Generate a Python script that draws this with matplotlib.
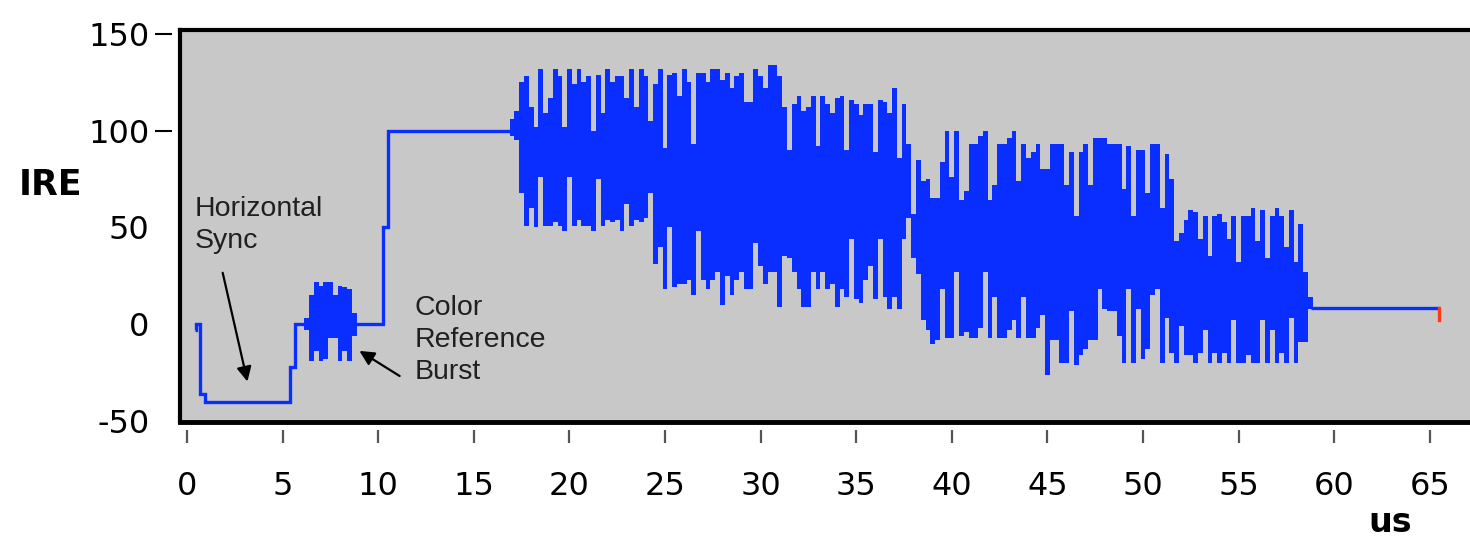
import numpy as np
import matplotlib.pyplot as plt

plt.rcParams['axes.unicode_minus'] = False

# NTSC line waveform, time in us, level in IRE

# blanking / sync / back porch before active video (step levels between edges)
front_edges = [0.40, 0.47, 0.70, 0.95, 5.40, 5.65, 10.25, 10.50, 17.00]
front_levels = [-3, 0, -36, -40, -22, 0, 50, 100]

# color burst envelope, one value per 0.25 us starting at 6.25 us
burst_start = 6.25
burst_top = [3, 15, 22, 20, 22, 22, 15, 20, 19, 18, 6]
burst_bottom = [-3, -19, -14, -19, -18, -7, -7, -19, -14, -19, -6]

# active video (color bars) envelope, one value per 0.25 us starting at 17.0 us
video_start = 17.0
video_top = [
    106, 110, 125, 128, 112, 102, 132, 109, 117, 132, 128, 102,
    132, 124, 132, 125, 128, 100, 129, 109, 132, 125, 128, 128,
    117, 132, 112, 132, 128, 105, 124, 132, 91, 129, 130, 118,
    132, 125, 93, 130, 130, 125, 132, 132, 126, 130, 122, 128,
    130, 115, 115, 132, 128, 122, 134, 134, 128, 112, 90, 114,
    118, 110, 112, 118, 92, 118, 114, 109, 117, 118, 90, 116,
    114, 108, 114, 114, 89, 116, 115, 109, 122, 86, 114, 93,
    57, 85, 74, 75, 65, 65, 84, 100, 76, 100, 64, 69,
    93, 93, 97, 100, 64, 72, 93, 93, 96, 100, 74, 93,
    86, 89, 93, 80, 80, 93, 93, 93, 72, 89, 56, 89,
    93, 72, 96, 96, 96, 93, 93, 93, 70, 92, 56, 90,
    90, 68, 93, 93, 60, 88, 75, 43, 47, 54, 59, 58,
    44, 56, 35, 56, 57, 53, 44, 56, 32, 56, 56, 60,
    43, 59, 34, 56, 60, 56, 40, 59, 32, 52, 27, 14,
]
video_bottom = [
    97, 95, 68, 51, 60, 50, 76, 51, 51, 53, 51, 48,
    76, 51, 54, 51, 51, 48, 75, 51, 54, 53, 54, 48,
    62, 51, 54, 53, 55, 68, 31, 40, 18, 50, 19, 21,
    21, 23, 15, 48, 23, 18, 23, 27, 10, 25, 15, 23,
    27, 18, 18, 42, 30, 21, 27, 27, 9, 35, 34, 27,
    18, 9, 9, 27, 18, 27, 18, 21, 9, 18, 14, 44,
    13, 11, 23, 30, 13, 44, 14, 8, 14, 8, 44, 55,
    34, 26, 2, -3, -10, -8, 18, -7, -7, 27, -6, -4,
    -7, -7, -2, 27, -7, 14, -7, -7, -3, 2, -7, 14,
    -7, -7, -2, 5, -26, -8, -8, -20, -20, 7, -21, -16,
    -13, -8, -8, 18, 8, 7, 7, -6, -20, 18, -20, 8,
    -18, -13, 15, 18, -20, 3, -15, -20, -1, -16, -16, -20,
    -15, -3, -20, -15, -20, -15, -20, 2, -20, -20, -16, -20,
    -20, 2, -20, -3, -20, -15, -20, 3, -20, -9, -9, 8,
]

# front porch after active video, end of line
tail_edges = [58.80, 65.50]
tail_levels = [8.5]
end_mark_t = 65.5
end_mark_v = [8.5, 2]

step = 0.25
blue = '#0a2eff'

fig = plt.figure(figsize=(14.7, 5.38), dpi=100)
ax = fig.add_axes([180 / 1470, 1 - 422 / 538, 1 - 180 / 1470, 392 / 538])
ax.set_facecolor('#c8c8c8')

ax.stairs(front_levels, front_edges, baseline=None, color=blue, lw=2.4)
ax.stairs(tail_levels, tail_edges, baseline=None, color=blue, lw=2.4)
ax.plot([end_mark_t, end_mark_t], end_mark_v, color='#ff3a10', lw=2.4)

burst_edges = burst_start - step / 2 + step * np.arange(len(burst_top) + 1)
ax.stairs(burst_top, burst_edges, baseline=burst_bottom, fill=True, color=blue, lw=0)

video_edges = video_start - step / 2 + step * np.arange(len(video_top) + 1)
ax.stairs(video_top, video_edges, baseline=video_bottom, fill=True, color=blue, lw=0)

ax.set_xlim(-0.37, 67.1)
ax.set_ylim(-50.5, 152)
ax.set_xticks(np.arange(0, 66, 5))
ax.set_yticks([-50, 0, 50, 100, 150])

for side in ['top', 'right']:
    ax.spines[side].set_visible(False)
for side in ['bottom', 'left']:
    ax.spines[side].set_position(('outward', 6))
    ax.spines[side].set_color('none')

# thick frame drawn separately so the ticks sit apart from it
ax.plot([0, 1], [1, 1], transform=ax.transAxes, color='k', lw=3, clip_on=False)
ax.plot([0, 1], [0, 0], transform=ax.transAxes, color='k', lw=3.5, clip_on=False)
ax.plot([0, 0], [0, 1], transform=ax.transAxes, color='k', lw=3, clip_on=False)

ax.tick_params(axis='x', length=9, width=1.6, color='#555555', pad=20, labelsize=23)
ax.tick_params(axis='y', length=12, width=1.5, color='k', pad=4, labelsize=23)
for tk in ax.yaxis.get_major_ticks()[:3]:
    tk.tick1line.set_visible(False)

fig.text(50 / 1470, 1 - 185 / 538, 'IRE', ha='center', va='center',
         fontsize=25, fontweight='bold')
fig.text(1390 / 1470, 1 - 522 / 538, 'us', ha='center', va='center',
         fontsize=24, fontweight='bold')

ax.text(0.42, 66, 'Horizontal\nSync', ha='left', va='top', fontsize=20.5,
        family='Liberation Sans', color='#202020', linespacing=1.3)
ax.text(11.9, 15, 'Color\nReference\nBurst', ha='left', va='top', fontsize=20.5,
        family='Liberation Sans', color='#202020', linespacing=1.3)

ax.annotate('', xy=(3.19, -31), xytext=(1.83, 28),
            arrowprops=dict(arrowstyle='-|>', color='k', lw=1.6, mutation_scale=22))
ax.annotate('', xy=(8.89, -13), xytext=(11.24, -27.5),
            arrowprops=dict(arrowstyle='-|>', color='k', lw=1.6, mutation_scale=22))

fig.savefig('out.png', dpi=100)
